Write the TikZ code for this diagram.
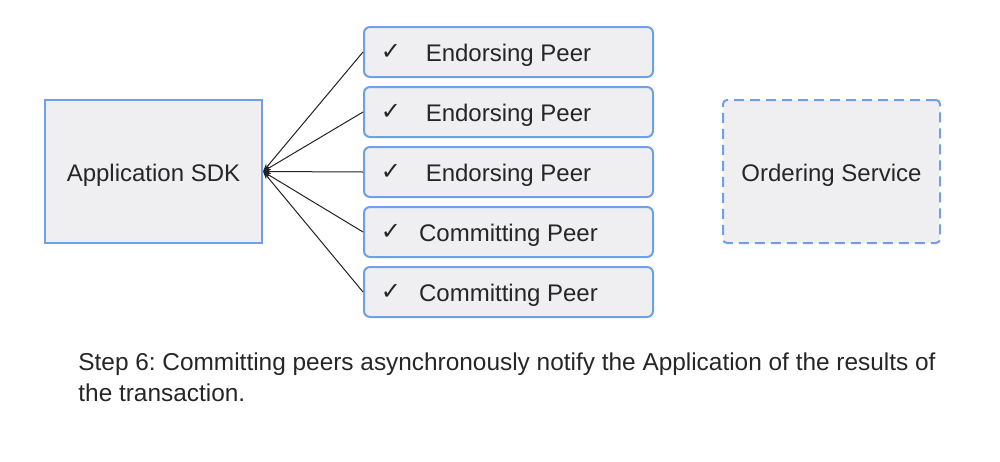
\documentclass[tikz,border=0pt]{standalone}
\usepackage{fontspec}
\setmainfont{Liberation Sans}
\newfontfamily\checkfont{DejaVu Sans}
\usepackage{xcolor}
\usetikzlibrary{arrows.meta}
\usetikzlibrary{positioning}

\definecolor{boxblue}{HTML}{6FA0E8}
\definecolor{boxfill}{HTML}{EFEFF1}
\definecolor{linegray}{HTML}{222222}

\frenchspacing

\begin{document}
\begin{tikzpicture}[x=0.5pt,y=-0.5pt,
					every node/.style = {font=\fontsize{12}{14}\selectfont, text=black!85},
					node distance = 4pt]

\tikzstyle{appbox} = [rectangle, draw=boxblue, fill=boxfill, line width=1pt,
					minimum width=108.5pt, minimum height=71.5pt, text height=12pt, text depth=2.5pt]
\tikzstyle{peerbox} = [rectangle, rounded corners=3pt, draw=boxblue, fill=boxfill, line width=1pt,
					minimum width=144.5pt, minimum height=25pt, text height=12pt, text depth=2.5pt]
\tikzstyle{orderbox} = [appbox, rounded corners=2pt, dash pattern=on 5pt off 3pt]
\tikzstyle{tick} = [font=\checkfont\fontsize{12}{12}\selectfont, inner sep=0pt]
\tikzstyle{notify} = [draw=linegray, line width=0.5pt, -{Stealth[length=4pt,width=2.6pt]}]

\useasboundingbox (0,0) rectangle (1000,461);

% application and ordering service
\node[appbox] (app) at (153.5,171.5) {Application SDK};
\node[orderbox] (order) at (831.5,171.5) {Ordering Service};

% peers
\node[peerbox] (peer1) at (508.5,52) {Endorsing Peer};
\node[peerbox, below=of peer1] (peer2) {Endorsing Peer};
\node[peerbox, below=of peer2] (peer3) {Endorsing Peer};
\node[peerbox, below=of peer3] (peer4) {Committing Peer};
\node[peerbox, below=of peer4] (peer5) {Committing Peer};

\node[tick] (tick1) at ([xshift=14pt]peer1.west) {✓};
\node[tick] (tick2) at ([xshift=14pt]peer2.west) {✓};
\node[tick] (tick3) at ([xshift=14pt]peer3.west) {✓};
\node[tick] (tick4) at ([xshift=14pt]peer4.west) {✓};
\node[tick] (tick5) at ([xshift=14pt]peer5.west) {✓};

% notifications back to the application
\draw[notify] (peer1.west) -- (app.east);
\draw[notify] (peer2.west) -- (app.east);
\draw[notify] (peer3.west) -- (app.east);
\draw[notify] (peer4.west) -- (app.east);
\draw[notify] (peer5.west) -- (app.east);

\node[anchor=north west, text width=440pt, align=flush left, inner sep=0pt,
	font=\fontsize{12.2}{15.5}\selectfont] (caption) at (78,352)
	{Step 6: Committing peers asynchronously notify the Application of the results of the transaction.};
\end{tikzpicture}
\end{document}
